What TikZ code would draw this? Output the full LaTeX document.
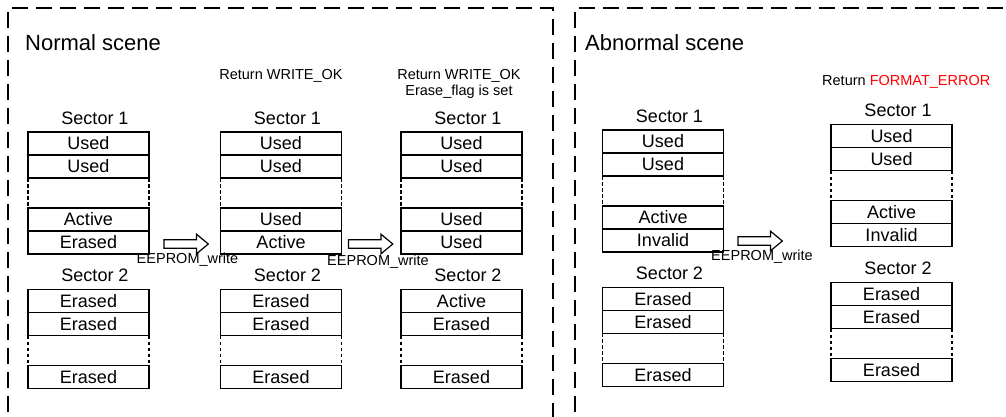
\documentclass[tikz,border=0pt]{standalone}
\usepackage{fontspec}
\setmainfont{Liberation Sans}
\usetikzlibrary{calc}

\tikzset{
  cell/.style={draw, line width=1.2pt, minimum width=121pt, minimum height=23pt,
    inner sep=0pt, outer sep=0pt, font=\fontsize{18}{20}\selectfont},
  gapcell/.style={minimum width=121pt, minimum height=30pt, inner sep=0pt, outer sep=0pt},
  gapside/.style={line width=1.1pt, dash pattern=on 3.5pt off 2.5pt},
  sectitle/.style={inner sep=0pt, font=\fontsize{18}{20}\selectfont},
  scenetitle/.style={inner sep=0pt, anchor=base west, font=\fontsize{22}{24}\selectfont},
  note/.style={inner sep=0pt, anchor=base, font=\fontsize{14.5}{16}\selectfont},
  frame/.style={line width=1.6pt, dash pattern=on 16pt off 8pt},
  blockarrow/.style={draw, line width=1.2pt, fill=white, line join=miter},
  oplabel/.style={inner sep=0pt, font=\fontsize{14.5}{16}\selectfont},
}

% Sector with two cells, a gap and two more cells
% #1 prefix, #2 left x, #3 top y, #4-#7 cell texts
\newcommand\sectorfive[8]{%
  \node[sectitle] (#1t) at (#2+67, #3-14) {#8};
  \node[cell, anchor=north west] (#1a) at (#2,#3) {#4};
  \node[cell, anchor=north] (#1b) at (#1a.south) {#5};
  \node[gapcell, anchor=north] (#1g) at (#1b.south) {};
  \node[cell, anchor=north] (#1c) at (#1g.south) {#6};
  \node[cell, anchor=north] (#1d) at (#1c.south) {#7};
  \draw[gapside] (#1g.north west) -- (#1g.south west)
                 (#1g.north east) -- (#1g.south east);
}
% Sector with two cells, a gap and one more cell
\newcommand\sectorfour[7]{%
  \node[sectitle] (#1t) at (#2+67, #3-14) {#7};
  \node[cell, anchor=north west] (#1a) at (#2,#3) {#4};
  \node[cell, anchor=north] (#1b) at (#1a.south) {#5};
  \node[gapcell, anchor=north] (#1g) at (#1b.south) {};
  \node[cell, anchor=north] (#1c) at (#1g.south) {#6};
  \draw[gapside] (#1g.north west) -- (#1g.south west)
                 (#1g.north east) -- (#1g.south east);
}
% Hollow block arrow starting at a named tail point
\newcommand\writearrow[2]{%
  \coordinate (#1) at #2;
  \draw[blockarrow] (#1) ++(0,-4.2) -- ++(32.5,0) -- ++(0,-5.6) -- ++(11.8,9.8)
     -- ++(-11.8,9.8) -- ++(0,-5.6) -- ++(-32.5,0) -- cycle;
}

\begin{document}
\begin{tikzpicture}[x=1pt, y=-1pt]
  \useasboundingbox (0,0) rectangle (1006,416);
  \clip (0,0) rectangle (1006,416);

  % scene frames
  \draw[frame] (8,460) -- (8,8) -- (553,8) -- (553,460);
  \draw[frame] (575,460) -- (575,8) -- (1060,8);

  \node[scenetitle] (normal) at (25,50) {Normal scene};
  \node[scenetitle] (abnormal) at (585,50) {Abnormal scene};

  % normal scene, three states
  \sectorfive{na}{28}{132}{Used}{Used}{Active}{Erased}{Sector 1}
  \sectorfour{nb}{28}{289.5}{Erased}{Erased}{Erased}{Sector 2}

  \sectorfive{ma}{220.5}{132}{Used}{Used}{Used}{Active}{Sector 1}
  \sectorfour{mb}{220.5}{289.5}{Erased}{Erased}{Erased}{Sector 2}

  \sectorfive{ka}{401}{132}{Used}{Used}{Used}{Used}{Sector 1}
  \sectorfour{kb}{401}{289.5}{Active}{Erased}{Erased}{Sector 2}

  \node[note] (ret1) at (281,79.5) {Return WRITE\_OK};
  \node[note] (ret2) at (459,79.5) {Return WRITE\_OK};
  \node[note] (flag) at (459,95) {Erase\_flag is set};

  \writearrow{w1}{(164,244)}
  \writearrow{w2}{(348.5,244)}
  \node[oplabel] (w1l) at (187.5,260) {EEPROM\_write};
  \node[oplabel] (w2l) at (378,262) {EEPROM\_write};

  % abnormal scene, two states
  \sectorfive{aa}{602.5}{130}{Used}{Used}{Active}{Invalid}{Sector 1}
  \sectorfour{ab}{602.5}{287.3}{Erased}{Erased}{Erased}{Sector 2}

  \sectorfive{ba}{831}{124.5}{Used}{Used}{Active}{Invalid}{Sector 1}
  \sectorfour{bb}{831}{282.7}{Erased}{Erased}{Erased}{Sector 2}

  \node[note, anchor=base west] (ret3) at (822,85) {Return \textcolor{red}{FORMAT\_ERROR}};

  \writearrow{w3}{(738,241)}
  \node[oplabel] (w3l) at (762,257) {EEPROM\_write};
\end{tikzpicture}
\end{document}
